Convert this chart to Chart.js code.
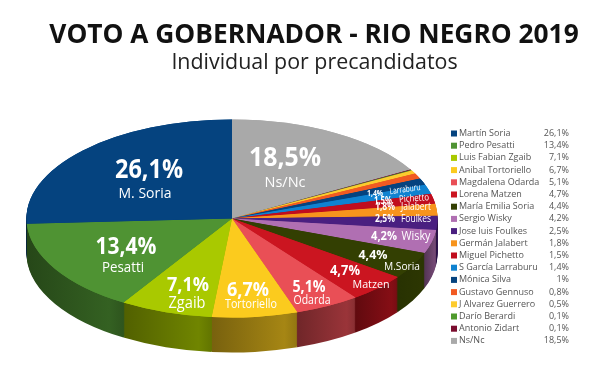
<!DOCTYPE html>
<html>
<head>
<meta charset="utf-8">
<style>
html, body { margin: 0; background: #fff; }
#wrap { width: 600px; height: 384px; }
</style>
<script src="https://cdn.jsdelivr.net/npm/chart.js@4"></script>
</head>
<body>
<div id="wrap"><canvas id="chart" width="600" height="384"></canvas></div>
<script>
const candidates = ['Martín Soria', 'Pedro Pesatti', 'Luis Fabian Zgaib', 'Anibal Tortoriello', 'Magdalena Odarda', 'Lorena Matzen', 'María Emilia Soria', 'Sergio Wisky', 'Jose luis Foulkes', 'Germán Jalabert', 'Miguel Pichetto', 'S García Larraburu', 'Mónica Silva', 'Gustavo Gennuso', 'J Alvarez Guerrero', 'Darío Berardi', 'Antonio Zidart', 'Ns/Nc'];
const votes = [26.1, 13.4, 7.1, 6.7, 5.1, 4.7, 4.4, 4.2, 2.5, 1.8, 1.5, 1.4, 1, 0.8, 0.5, 0.1, 0.1, 18.5];
const colors = ['#05437f', '#4f9333', '#a9c900', '#fbcb1e', '#e94f56', '#cb1520', '#333f02', '#b06fb2', '#4a1f80', '#f7941d', '#c00d1e', '#0f82d0', '#05437f', '#f15a22', '#fdcb2e', '#4f9a2c', '#7a0c2e', '#a9a9a9'];

const CX = 232, CY = 218.5, RX = 205.5, RY = 99, DEPTH = 35;
const FONT = "'Open Sans'";

// slice labels, offsets from the pie centre, w = width in the picture:
// [index, short name, pct size, pct dx, pct dy, pct w, name size, name dx, name dy, name w, tilt]
const sliceLabels = [
    [0, 'M. Soria', 26, -83, -48, 68, 15, -87, -25, 53, 0],
    [1, 'Pesatti', 23.5, -106, 29, 61, 14, -109, 50, 42, 0],
    [2, 'Zgaib', 20, -44, 67, 42, 17, -45, 85, 37, 0],
    [3, 'Tortoriello', 20, 16, 72, 42, 12, 19, 86, 52, 0],
    [4, 'Odarda', 16, 77, 69, 33, 12.5, 80, 82, 37, 0],
    [5, 'Matzen', 13.5, 113, 53, 30, 11.5, 139, 66, 37, 0],
    [6, 'M.Soria', 13, 141, 37, 29, 11.5, 170, 48, 36, 0],
    [7, 'Wisky', 12, 152, 18, 26, 12.5, 184, 18, 29, 0],
    [8, 'Foulkes', 10, 153, 1, 20, 10, 184, 1, 30, 0],
    [9, 'Jalabert', 10, 153, -11, 20, 10, 184, -11, 30, 0],
    [10, 'Pichetto', 10, 151, -17, 18, 9.5, 182, -20, 30, -4],
    [11, 'Larraburu', 8.5, 143, -25, 16, 9, 173, -29, 31, -8],
    [17, 'Ns/Nc', 26, 53, -60, 72, 15, 53, -36, 41, 0]
];

// the pie in the picture is in perspective, slices in front look shifted: [true angle, drawn angle]
const angleMap = [[0, 0], [66.4, 60], [92.2, 88], [116.3, 110], [149, 142.5], [191.4, 185], [216.9, 211], [265, 266], [360, 360]];

var warp = function (rad) {
    const deg = (rad + Math.PI / 2) * 180 / Math.PI;
    for (let i = 1; i < angleMap.length; i++) {
        const a = angleMap[i - 1], b = angleMap[i];
        if (deg <= b[0] + 0.001) {
            return (a[1] + (deg - a[0]) / (b[0] - a[0]) * (b[1] - a[1])) * Math.PI / 180 - Math.PI / 2;
        }
    }
    return rad;
}

var shade = function (hex, f) {
    const n = parseInt(hex.slice(1), 16);
    const r = n >> 16, g = (n >> 8) & 255, b = n & 255;
    // very dark slices barely change on the wall
    if (r + g + b < 180) f = 0.6 + f * 0.4;
    return `rgb(${r * f},${g * f},${b * f})`;
}

var pct = function (v) {
    return String(v).replace('.', ',') + '%';
}

const pie3d = {
    id: 'pie3d',
    afterDatasetUpdate(chart) {
        chart.getDatasetMeta(0).data.forEach(arc => {
            const start = warp(arc.startAngle), end = warp(arc.endAngle);
            arc.startAngle = start;
            arc.endAngle = end;
            arc.circumference = end - start;
        });
    },
    beforeDatasetsDraw(chart) {
        const ctx = chart.ctx;
        const arcs = chart.getDatasetMeta(0).data;
        const r = arcs[0].outerRadius;
        const sy = RY / r;
        ctx.save();
        ctx.translate(CX, CY);
        ctx.scale(RX / r, sy);
        ctx.translate(-arcs[0].x, -arcs[0].y);
        // side wall: the same arcs pushed down, darker, back to front
        for (let d = DEPTH; d >= 0; d--) {
            arcs.forEach((arc, i) => {
                const base = colors[arcs.length - 1 - i];
                const left = arc.x + r * Math.cos(Math.max(arc.startAngle, arc.endAngle));
                const right = arc.x + r * Math.cos(Math.min(arc.startAngle, arc.endAngle));
                const grad = ctx.createLinearGradient(Math.min(left, right), 0, Math.max(left, right), 0);
                grad.addColorStop(0, shade(base, 0.48));
                grad.addColorStop(0.85, shade(base, 0.66));
                grad.addColorStop(1, shade(base, 0.58));
                const saved = arc.options;
                arc.options = Object.assign({}, saved, { backgroundColor: d == 0 ? base : grad });
                ctx.save();
                ctx.translate(0, d / sy);
                arc.draw(ctx);
                ctx.restore();
                arc.options = saved;
            });
        }
    },
    afterDatasetsDraw(chart) {
        const ctx = chart.ctx;
        ctx.restore();
        ctx.textBaseline = 'middle';

        ctx.textAlign = 'center';
        ctx.fillStyle = '#111';
        ctx.font = `bold 26.3px ${FONT}`;
        ctx.fillText('VOTO A GOBERNADOR - RIO NEGRO 2019', 314, 36);
        ctx.fillStyle = '#222';
        ctx.font = `21.4px ${FONT}`;
        ctx.fillText('Individual por precandidatos', 314.5, 63);

        ctx.fillStyle = '#fff';
        sliceLabels.forEach(l => {
            ctx.font = `bold ${l[2]}px ${FONT}`;
            ctx.fillText(pct(votes[l[0]]), CX + l[3], CY + l[4], l[5]);
            ctx.save();
            ctx.translate(CX + l[7], CY + l[8]);
            ctx.rotate(l[10] * Math.PI / 180);
            ctx.font = `${l[6]}px ${FONT}`;
            ctx.fillText(l[1], 0, 0, l[9]);
            ctx.restore();
        });

        ctx.font = `9px ${FONT}`;
        candidates.forEach((name, i) => {
            const y = 133.5 + i * 12.2;
            ctx.fillStyle = colors[i];
            ctx.fillRect(451, y - 3, 6, 6);
            ctx.fillStyle = '#555';
            ctx.textAlign = 'left';
            ctx.fillText(name, 459, y);
            ctx.textAlign = 'right';
            ctx.fillText(pct(votes[i]), 569, y);
        });
    }
};

new Chart(document.getElementById('chart'), {
    type: 'pie',
    data: {
        labels: candidates.slice().reverse(),
        datasets: [{
            data: votes.slice().reverse(),
            backgroundColor: colors.slice().reverse(),
            borderWidth: 0,
            clip: false
        }]
    },
    plugins: [pie3d],
    options: {
        responsive: false,
        animation: false,
        events: [],
        plugins: {
            legend: { display: false },
            tooltip: { enabled: false }
        }
    }
});
</script>
</body>
</html>
